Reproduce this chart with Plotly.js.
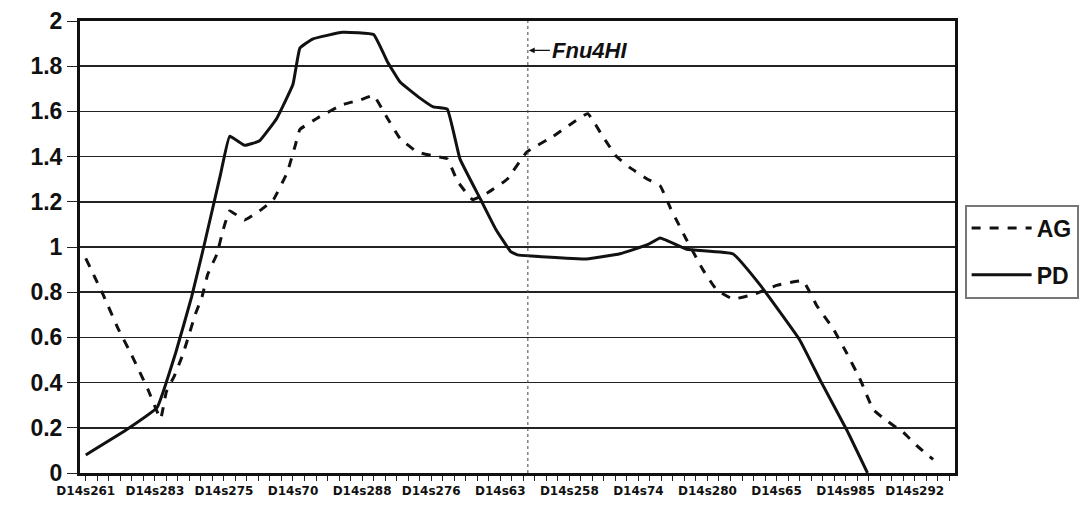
<!DOCTYPE html>
<html>
<head>
<meta charset="utf-8">
<script src="https://cdn.plot.ly/plotly-3.0.1.min.js"></script>
<style>html,body{margin:0;padding:0;background:#fff;}#chart{width:1086px;height:509px;}</style>
</head>
<body>
<div id="chart"></div>
<script>
// Marker names shown on the axis (one label every 6 loci)
const markerLabels = ['D14s261','D14s283','D14s275','D14s70','D14s288','D14s276','D14s63','D14s258','D14s74','D14s280','D14s65','D14s985','D14s292'];
const lociCount = 76;
const labelEvery = 6;

// AG series (position along the map in locus units, value)
const agX = [0, 1.5, 2.8, 4.0, 5.4, 6.5, 7.0, 7.7, 8.4, 8.9, 9.5, 10.1, 10.6, 11.4, 11.9, 12.5, 13.8, 15.1, 16.3, 17.5, 18.2, 18.6, 20.1, 22.3, 23.8, 25.0, 26.2, 27.3, 28.8, 30.5, 31.4, 32.3, 33.6, 34.9, 36.6, 38.3, 40.6, 42.3, 43.6, 44.9, 46.1, 47.3, 48.8, 49.9, 50.8, 51.4, 52.1, 53.6, 54.8, 56.2, 58.0, 60.0, 62.3, 63.5, 64.9, 66.1, 67.3, 68.4, 69.6, 71.0, 72.2, 73.6];
const agY = [0.95, 0.79, 0.64, 0.52, 0.37, 0.24, 0.36, 0.43, 0.52, 0.60, 0.70, 0.78, 0.88, 0.97, 1.07, 1.16, 1.12, 1.16, 1.21, 1.33, 1.45, 1.52, 1.57, 1.63, 1.65, 1.67, 1.57, 1.48, 1.42, 1.40, 1.39, 1.29, 1.21, 1.24, 1.30, 1.42, 1.49, 1.55, 1.59, 1.49, 1.40, 1.35, 1.30, 1.27, 1.17, 1.11, 1.04, 0.90, 0.81, 0.77, 0.79, 0.83, 0.85, 0.74, 0.64, 0.53, 0.41, 0.28, 0.23, 0.18, 0.12, 0.06];

// PD series
const pdX = [0, 3.5, 6.2, 7.8, 9.2, 10.2, 11.7, 12.5, 13.8, 15.1, 16.6, 18.0, 18.6, 19.7, 22.3, 25.0, 26.2, 27.3, 29.0, 30.2, 31.4, 32.5, 34.3, 35.6, 36.9, 37.5, 38.7, 43.5, 46.4, 48.8, 49.9, 52.2, 56.2, 58.6, 62.0, 63.8, 66.1, 67.9];
const pdY = [0.08, 0.19, 0.29, 0.53, 0.78, 0.99, 1.32, 1.49, 1.45, 1.47, 1.57, 1.72, 1.88, 1.92, 1.95, 1.94, 1.82, 1.73, 1.66, 1.62, 1.61, 1.39, 1.21, 1.08, 0.98, 0.965, 0.96, 0.947, 0.97, 1.01, 1.04, 0.99, 0.97, 0.83, 0.59, 0.41, 0.19, 0.0];

// Restriction site marker
const siteLabel = 'Fnu4HI';
const sitePos = 38.4;

const tickVals = markerLabels.map((_, i) => i * labelEvery);

const traces = [
  {x: agX, y: agY, name: 'AG', mode: 'lines', legendgroup: 'a',
   line: {color: '#111', width: 3, dash: '9px,9px', shape: 'spline', smoothing: 0.3}},
  {x: pdX, y: pdY, name: 'PD', mode: 'lines', legendgroup: 'b',
   line: {color: '#111', width: 3, shape: 'spline', smoothing: 0.3}}
];

const layout = {
  width: 1086, height: 509,
  margin: {l: 80, r: 131, t: 21, b: 36, autoexpand: false},
  paper_bgcolor: '#fff', plot_bgcolor: '#fff',
  showlegend: true,
  legend: {x: 1.011, xanchor: 'left', y: 0.49, yanchor: 'middle',
    bordercolor: '#777', borderwidth: 2, bgcolor: '#fff',
    traceorder: 'grouped', tracegroupgap: 14, itemwidth: 60,
    font: {family: 'Liberation Sans, Arial, sans-serif', size: 23, weight: 'bold', color: '#111'}},
  xaxis: {
    range: [-0.5, lociCount - 0.5],
    tickmode: 'array', tickvals: tickVals, ticktext: markerLabels,
    ticks: 'outside', ticklen: 5, tickwidth: 1, tickcolor: '#222',
    minor: {tickmode: 'linear', tick0: 0, dtick: 1, ticks: 'outside', ticklen: 5, tickwidth: 1, tickcolor: '#222'},
    showgrid: false, zeroline: false,
    showline: true, linecolor: '#111', linewidth: 3, mirror: true,
    tickangle: 0, automargin: false,
    tickfont: {family: 'DejaVu Sans, sans-serif', size: 12, weight: 'bold', color: '#111'}
  },
  yaxis: {
    range: [0, 2], dtick: 0.2, tick0: 0,
    ticks: 'outside', ticklen: 10, tickwidth: 1, tickcolor: '#222',
    showgrid: true, gridcolor: '#222', gridwidth: 1.5,
    zeroline: false, automargin: false,
    showline: true, linecolor: '#111', linewidth: 3, mirror: true,
    tickfont: {family: 'Liberation Sans, Arial, sans-serif', size: 23, weight: 'bold', color: '#111'}
  },
  shapes: [
    {type: 'line', xref: 'x', yref: 'paper', x0: sitePos, x1: sitePos, y0: 0, y1: 1,
     line: {color: '#444', width: 1, dash: 'dot'}}
  ],
  annotations: [
    {xref: 'x', yref: 'y', x: sitePos, y: 1.87, axref: 'pixel', ayref: 'pixel', ax: 22, ay: 0,
     xanchor: 'left', yanchor: 'middle',
     text: siteLabel, showarrow: true, arrowhead: 2, arrowsize: 0.9, arrowwidth: 1.3, arrowcolor: '#111',
     standoff: 1, startstandoff: 0,
     font: {family: 'Liberation Sans, Arial, sans-serif', size: 22, style: 'italic', weight: 'bold', color: '#111'}}
  ]
};

Plotly.newPlot('chart', traces, layout, {staticPlot: true, displayModeBar: false});
</script>
</body>
</html>
